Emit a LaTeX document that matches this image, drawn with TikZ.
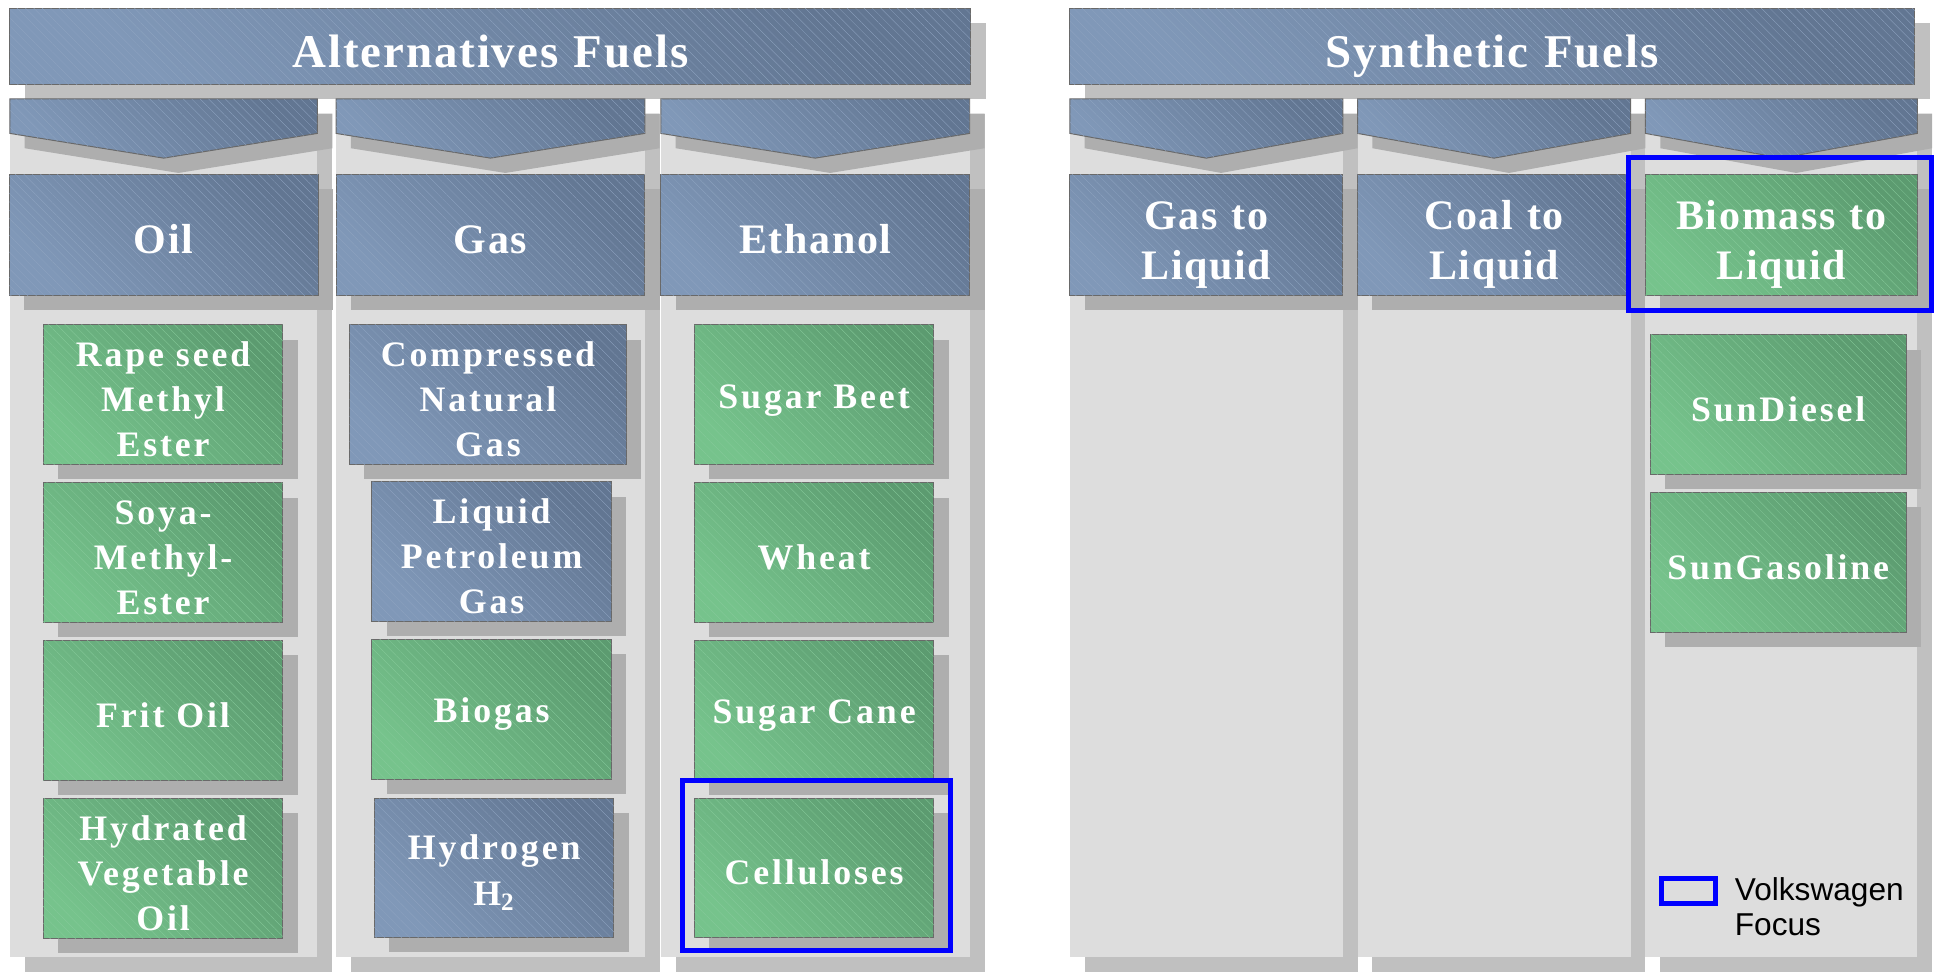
\documentclass[tikz,border=0pt]{standalone}
\usepackage{fontspec}
\usepackage{tikz}
\usetikzlibrary{positioning,shadows,patterns.meta}

\setmainfont{Liberation Serif}
\newfontfamily\legfont{Liberation Sans}
\newfontfamily\boxfont[LetterSpace=4]{Liberation Serif}
\newfontfamily\itemfont[LetterSpace=8]{Liberation Serif}

\definecolor{blueL}{RGB}{128,152,184}
\definecolor{blueD}{RGB}{98,118,146}
\definecolor{greenL}{RGB}{118,195,140}
\definecolor{greenD}{RGB}{92,155,112}
\definecolor{edgegrey}{RGB}{105,105,105}
\definecolor{shgrey}{RGB}{174,174,174}
\definecolor{colbg}{RGB}{221,221,221}
\definecolor{colsh}{RGB}{192,192,192}
\definecolor{vwblue}{RGB}{0,0,255}

\tikzset{
  hatch/.style={
    postaction={pattern={Lines[angle=-45,distance=2.4pt,line width=0.12pt]},
      pattern color=#1}
  },
  dropsh/.style={
    drop shadow={shadow xshift=6pt, shadow yshift=-6pt, fill=#1, opacity=1}
  },
  bluefill/.style={
    draw=edgegrey, line width=0.4pt,
    left color=blueL, right color=blueD, shading angle=135, hatch=blueL!88!white
  },
  greenfill/.style={
    draw=edgegrey, line width=0.4pt,
    left color=greenL, right color=greenD, shading angle=135, hatch=greenL!88!white
  },
  cellbox/.style={
    rectangle, inner sep=0pt, text=white, align=center
  },
  itembox/.style={
    cellbox, dropsh=shgrey, minimum width=97pt, minimum height=56.5pt,
    text width=95pt,
    font=\itemfont\bfseries\fontsize{14.5}{18.25}\selectfont,
    execute at begin node={\rule{0pt}{14pt}}
  },
  headbox/.style={
    cellbox, dropsh=shgrey, minimum width=125pt, minimum height=49pt,
    text width=105pt,
    font=\boxfont\bfseries\fontsize{17}{20}\selectfont,
    execute at begin node={\rule{0pt}{15.5pt}}
  },
  twoline/.style={execute at begin node={\rule{0pt}{19.5pt}}},
  titlebox/.style={
    cellbox, bluefill, dropsh=colsh, minimum height=30.5pt,
    text width=320pt, text depth=0pt,
    font=\boxfont\bfseries\fontsize{19}{22}\selectfont,
    execute at begin node={\rule{0pt}{17.5pt}}
  },
  vwframe/.style={draw=vwblue, line width=2pt}
}

\begin{document}
\begin{tikzpicture}[x=0.5pt,y=-0.5pt]
  \useasboundingbox (0,0) rectangle (1568,787);

  % titles
  \node[titlebox, minimum width=389pt] (alt) at (397,37.5) {Alternatives Fuels};
  \node[titlebox, minimum width=342pt] (syn) at (1208,37.5) {Synthetic Fuels};

  % column strips and chevrons
  \foreach \a/\b in {8/257,272/522,535/785,866/1087,1099/1320,1332/1552}{
    \fill[colbg,dropsh=colsh] (\a,80) rectangle (\b,775);
  }
  \foreach \a/\b in {8/257,272/522,535/785,866/1087,1099/1320,1332/1552}{
    \path[bluefill,dropsh=shgrey] (\a,80) -- (\b,80) -- (\b,108)
      -- ({(\a+\b)/2},128) -- (\a,108) -- cycle;
  }

  % categories
  \node[headbox,bluefill] (oil) at (132.5,190) {Oil};
  \node[headbox,bluefill] (gas) at (397,190) {Gas};
  \node[headbox,bluefill] (ethanol) at (660,190) {Ethanol};
  \node[headbox,twoline,bluefill,minimum width=110.5pt] (gtl) at (976.5,190) {Gas to\\Liquid};
  \node[headbox,twoline,bluefill,minimum width=110.5pt] (ctl) at (1209.5,190) {Coal to\\Liquid};
  \node[headbox,twoline,greenfill,minimum width=110pt] (btl) at (1442,190) {Biomass to\\Liquid};

  % oil
  \node[itembox,greenfill] (rme) at (132,319.5) {Rape seed\\Methyl\\Ester};
  \node[itembox,greenfill,below=7pt of rme] (sme) {Soya-\\Methyl-\\Ester};
  \node[itembox,greenfill,below=7pt of sme] (frit) {Frit Oil};
  \node[itembox,greenfill,below=7pt of frit] (hvo) {Hydrated\\Vegetable\\Oil};

  % gas
  \node[itembox,bluefill,minimum width=112pt] (cng) at (395,319.5) {Compressed\\Natural\\Gas};
  \node[itembox,bluefill] (lpg) at (398,446.5) {Liquid\\Petroleum\\Gas};
  \node[itembox,greenfill,below=7pt of lpg] (biogas) {Biogas};
  \node[itembox,bluefill] (hydrogen) at (400,702.5) {Hydrogen\\H\textsubscript{2}};

  % ethanol
  \node[itembox,greenfill] (beet) at (659,319.5) {Sugar Beet};
  \node[itembox,greenfill,below=7pt of beet] (wheat) {Wheat};
  \node[itembox,greenfill,below=7pt of wheat] (cane) {Sugar Cane};
  \node[itembox,greenfill] (cellu) at (659,702.5) {Celluloses};

  % biomass to liquid
  \node[itembox,greenfill,minimum width=103.5pt] (sundiesel) at (1439.5,327.5) {SunDiesel};
  \node[itembox,greenfill,minimum width=103.5pt,below=7pt of sundiesel] (sungas) {SunGasoline};

  % focus frames
  \draw[vwframe] ([shift={(-4.5pt,7pt)}]cellu.north west)
    rectangle ([shift={(6.5pt,-5pt)}]cellu.south east);
  \draw[vwframe] ([shift={(-6.5pt,6.5pt)}]btl.north west)
    rectangle ([shift={(5.5pt,-6pt)}]btl.south east);

  % legend
  \node[draw=vwblue,line width=2pt,minimum width=22pt,minimum height=10pt,inner sep=0pt] (legbox) at (1367,721) {};
  \node[anchor=west,align=left,inner sep=0pt,font=\legfont\fontsize{12.8}{14}\selectfont] (legtext) at (1404,734) {Volkswagen\\Focus};
\end{tikzpicture}
\end{document}
